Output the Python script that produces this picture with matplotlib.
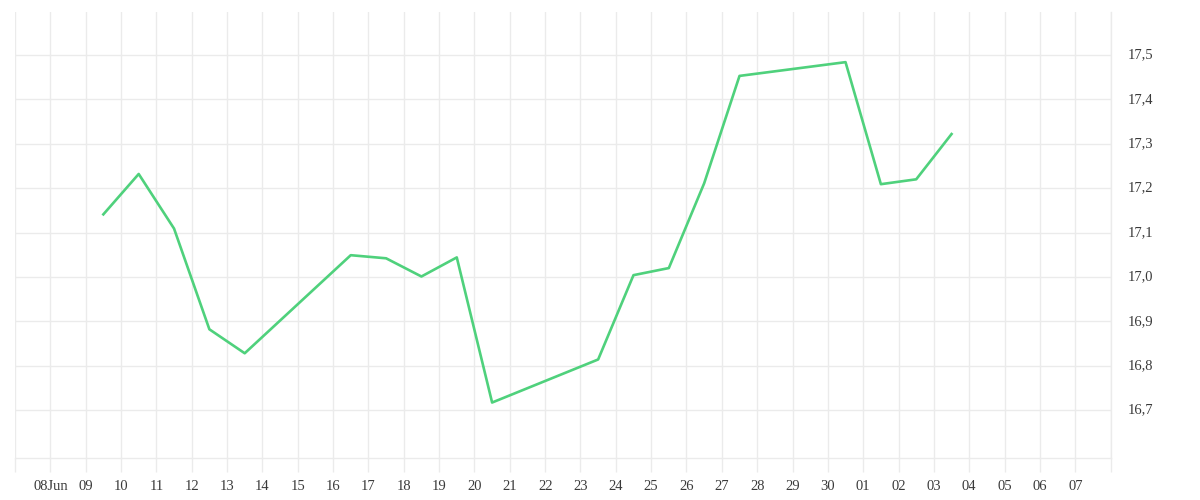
#!/usr/bin/env python3
"""Chart: daily series, Jun-Jul 2025, weekdays only."""

import pandas as pd
import matplotlib.pyplot as plt
import matplotlib.ticker as mticker

# Data (trading days only)
dates = [
    "2025-06-09", "2025-06-10", "2025-06-11", "2025-06-12", "2025-06-13",
    "2025-06-16", "2025-06-17", "2025-06-18", "2025-06-19", "2025-06-20",
    "2025-06-23", "2025-06-24", "2025-06-25", "2025-06-26", "2025-06-27",
    "2025-06-30", "2025-07-01", "2025-07-02", "2025-07-03",
]
values = [
    17.141, 17.232, 17.109, 16.882, 16.828,
    17.049, 17.042, 17.001, 17.044, 16.717,
    16.814, 17.004, 17.020, 17.211, 17.453,
    17.484, 17.209, 17.220, 17.322,
]
y_ticks = [16.7, 16.8, 16.9, 17.0, 17.1, 17.2, 17.3, 17.4, 17.5]

GRID = "#ebebeb"
TEXT = "#3a3a3a"
LINE = "#4fd17c"

x = pd.to_datetime(dates) + pd.Timedelta(hours=12)

fig = plt.figure(figsize=(12, 5), dpi=100)
ax = fig.add_axes([0.0125, 0.084, 0.913, 0.892])

ax.plot(x, values, color=LINE, linewidth=1.9)

ax.set_xlim(pd.Timestamp("2025-06-07"), pd.Timestamp("2025-07-08"))
ax.set_ylim(16.592, 17.597)

# x ticks: one per day, first labelled with month
day_ticks = pd.date_range("2025-06-07", "2025-07-08", freq="D")
ax.set_xticks(day_ticks)
labels = []
for d in day_ticks:
    if d == day_ticks[0] or d == day_ticks[-1]:
        labels.append("")
    elif d.day == 8 and d.month == 6:
        labels.append("08Jun")
    else:
        labels.append(d.strftime("%d"))
ax.set_xticklabels(labels)

ax.set_yticks(y_ticks)
ax.yaxis.set_major_formatter(mticker.FuncFormatter(lambda v, p: f"{v:.1f}".replace(".", ",")))
ax.yaxis.tick_right()

ax.grid(True, color=GRID, linewidth=1)
ax.set_axisbelow(True)
for side in ["top", "left"]:
    ax.spines[side].set_visible(False)
for side in ["bottom", "right"]:
    ax.spines[side].set_color(GRID)
    ax.spines[side].set_linewidth(1)

ax.tick_params(axis="x", length=10, width=1, color=GRID, pad=6,
               labelsize=10.5, labelcolor=TEXT)
ax.tick_params(axis="y", length=0, pad=12, labelsize=10.5, labelcolor=TEXT)
for lab in ax.get_xticklabels() + ax.get_yticklabels():
    lab.set_fontfamily("Liberation Serif")
for lab in ax.get_yticklabels():
    lab.set_verticalalignment("center")
    lab.set_y(lab.get_position()[1])

plt.savefig("out.png", dpi=100)
